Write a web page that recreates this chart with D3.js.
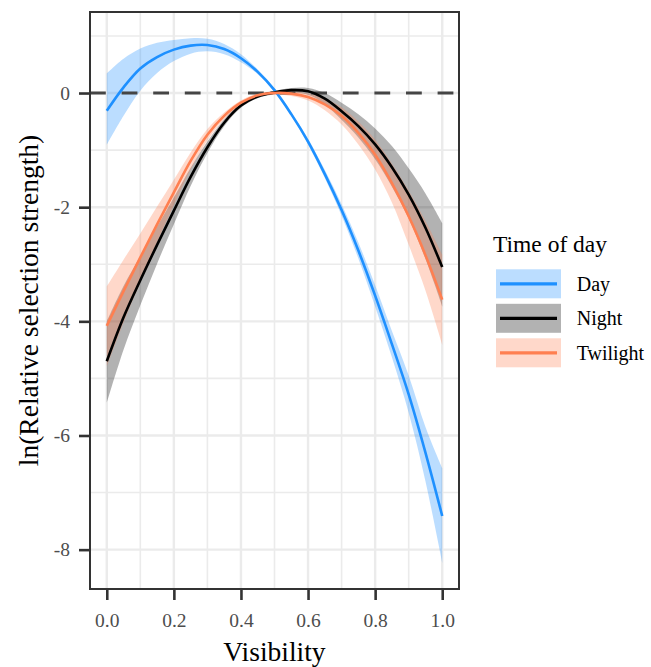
<!DOCTYPE html>
<html>
<head>
<meta charset="utf-8">
<script src="https://cdnjs.cloudflare.com/ajax/libs/d3/7.8.5/d3.min.js"></script>
<style>
  html, body { margin: 0; padding: 0; background: #fff; }
  svg { display: block; }
  text { font-family: "Liberation Serif", "Times New Roman", serif; }
</style>
</head>
<body>
<svg id="chart" width="651" height="667"></svg>
<script>
// Visibility values at which the fitted curves are evaluated
const visibility = [0, 0.05, 0.1, 0.15, 0.2, 0.25, 0.3, 0.35, 0.4, 0.45, 0.5,
                    0.55, 0.6, 0.65, 0.7, 0.75, 0.8, 0.85, 0.9, 0.95, 1.0];

// Day: fitted ln(relative selection strength) with confidence band
const dayFit   = [-0.31, 0.10, 0.43, 0.63, 0.76, 0.83, 0.84, 0.77, 0.61, 0.37, 0.05,
                  -0.37, -0.85, -1.42, -2.05, -2.76, -3.55, -4.40, -5.28, -6.30, -7.41];
const dayUpper = [0.34, 0.60, 0.78, 0.88, 0.93, 0.96, 0.95, 0.86, 0.68, 0.41, 0.08,
                  -0.34, -0.80, -1.35, -1.95, -2.62, -3.37, -4.17, -4.95, -5.85, -6.57];
const dayLower = [-0.91, -0.40, 0.04, 0.35, 0.56, 0.69, 0.73, 0.68, 0.54, 0.33, 0.02,
                  -0.40, -0.90, -1.49, -2.15, -2.90, -3.74, -4.63, -5.60, -6.80, -8.23];

// Night
const nightFit   = [-4.70, -3.93, -3.28, -2.66, -2.06, -1.47, -0.95, -0.52, -0.22, -0.06, 0.01,
                    0.05, 0.03, -0.10, -0.32, -0.58, -0.90, -1.30, -1.78, -2.36, -3.05];
const nightUpper = [-4.00, -3.38, -2.86, -2.34, -1.83, -1.31, -0.85, -0.46, -0.18, -0.03, 0.04,
                    0.09, 0.09, 0.00, -0.17, -0.37, -0.62, -0.93, -1.32, -1.76, -2.28];
const nightLower = [-5.43, -4.50, -3.72, -2.99, -2.30, -1.63, -1.05, -0.58, -0.26, -0.09, -0.02,
                    0.01, -0.03, -0.20, -0.47, -0.78, -1.16, -1.64, -2.20, -2.91, -3.74];

// Twilight
const twilightFit   = [-4.08, -3.47, -2.88, -2.30, -1.74, -1.19, -0.73, -0.40, -0.17, -0.04, 0.00,
                       -0.01, -0.07, -0.20, -0.40, -0.70, -1.08, -1.58, -2.16, -2.84, -3.62];
const twilightUpper = [-3.39, -2.92, -2.46, -1.99, -1.52, -1.04, -0.63, -0.34, -0.13, -0.01, 0.03,
                       0.03, -0.01, -0.10, -0.25, -0.50, -0.82, -1.24, -1.71, -2.24, -2.83];
const twilightLower = [-4.79, -4.02, -3.30, -2.61, -1.96, -1.34, -0.83, -0.46, -0.21, -0.07, -0.03,
                       -0.05, -0.13, -0.30, -0.55, -0.90, -1.34, -1.92, -2.66, -3.46, -4.41];

const groupNames = ["Day", "Night", "Twilight"];
const groupColors = ["#1E90FF", "#000000", "#FF7F50"];

const xTicks = [0, 0.2, 0.4, 0.6, 0.8, 1.0];
const xMinor = [0.1, 0.3, 0.5, 0.7, 0.9];
const yTicks = [-8, -6, -4, -2, 0];
const yMinor = [-7, -5, -3, -1, 1];

const xTitle = "Visibility";
const yTitle = "ln(Relative selection strength)";
const legendTitle = "Time of day";

// ---- assemble series ----
function buildSeries(fit, upper, lower) {
  return visibility.map((v, i) => ({ x: v, y: fit[i], hi: upper[i], lo: lower[i] }));
}
const series = [
  buildSeries(dayFit, dayUpper, dayLower),
  buildSeries(nightFit, nightUpper, nightLower),
  buildSeries(twilightFit, twilightUpper, twilightLower)
].map((values, i) => ({ name: groupNames[i], color: groupColors[i], values }));

// ---- layout ----
const panel = { left: 90, right: 459, top: 12, bottom: 589 };
const svg = d3.select("#chart");
svg.append("rect").attr("width", 651).attr("height", 667).attr("fill", "#fff");

// 5% padding on both scales
const xExt = d3.extent(visibility);
const xPad = (xExt[1] - xExt[0]) * 0.05;
const x = d3.scaleLinear().domain([xExt[0] - xPad, xExt[1] + xPad]).range([panel.left, panel.right]);

const allY = series.flatMap(s => s.values.flatMap(d => [d.hi, d.lo, d.y]));
const yExt = d3.extent(allY);
const yPad = (yExt[1] - yExt[0]) * 0.05;
const y = d3.scaleLinear().domain([yExt[0] - yPad, yExt[1] + yPad]).range([panel.bottom, panel.top]);

// ---- grid ----
const grid = svg.append("g").attr("stroke", "#EBEBEB");
grid.selectAll("line.xminor").data(xMinor).join("line")
  .attr("x1", d => x(d)).attr("x2", d => x(d)).attr("y1", panel.top).attr("y2", panel.bottom)
  .attr("stroke-width", 1.6);
grid.selectAll("line.yminor").data(yMinor).join("line")
  .attr("y1", d => y(d)).attr("y2", d => y(d)).attr("x1", panel.left).attr("x2", panel.right)
  .attr("stroke-width", 1.6);
grid.selectAll("line.xmajor").data(xTicks).join("line")
  .attr("x1", d => x(d)).attr("x2", d => x(d)).attr("y1", panel.top).attr("y2", panel.bottom)
  .attr("stroke-width", 2.4);
grid.selectAll("line.ymajor").data(yTicks).join("line")
  .attr("y1", d => y(d)).attr("y2", d => y(d)).attr("x1", panel.left).attr("x2", panel.right)
  .attr("stroke-width", 2.4);

// ---- confidence ribbons ----
const area = d3.area()
  .x(d => x(d.x)).y0(d => y(d.lo)).y1(d => y(d.hi))
  .curve(d3.curveCatmullRom.alpha(0.5));
svg.append("g").selectAll("path").data(series).join("path")
  .attr("d", s => area(s.values))
  .attr("fill", s => s.color)
  .attr("fill-opacity", 0.3);

// ---- reference line at zero ----
svg.append("line")
  .attr("x1", panel.left).attr("x2", panel.right)
  .attr("y1", y(0)).attr("y2", y(0))
  .attr("stroke", "#454545").attr("stroke-width", 3)
  .attr("stroke-dasharray", "15.8,15.8");

// ---- fitted lines ----
const line = d3.line().x(d => x(d.x)).y(d => y(d.y)).curve(d3.curveCatmullRom.alpha(0.5));
svg.append("g").selectAll("path").data(series).join("path")
  .attr("d", s => line(s.values))
  .attr("fill", "none")
  .attr("stroke", s => s.color)
  .attr("stroke-width", 2.6);

// ---- panel border ----
svg.append("rect")
  .attr("x", panel.left).attr("y", panel.top)
  .attr("width", panel.right - panel.left).attr("height", panel.bottom - panel.top)
  .attr("fill", "none").attr("stroke", "#333333").attr("stroke-width", 2);

// ---- axes ----
const xAxis = d3.axisBottom(x).tickValues(xTicks).tickFormat(d3.format(".1f"))
  .tickSize(11).tickPadding(13);
const gx = svg.append("g").attr("transform", `translate(0,${panel.bottom})`).call(xAxis);
gx.select(".domain").remove();
gx.selectAll(".tick line").attr("stroke", "#333333").attr("stroke-width", 2.6);
gx.selectAll(".tick text").attr("fill", "#4D4D4D").attr("font-size", 19.5)
  .attr("font-family", "Liberation Serif, Times New Roman, serif");

// plain hyphen-minus for negative tick labels
const yAxis = d3.axisLeft(y).tickValues(yTicks).tickFormat(d => String(d))
  .tickSize(11).tickPadding(9);
const gy = svg.append("g").attr("transform", `translate(${panel.left},0)`).call(yAxis);
gy.select(".domain").remove();
gy.selectAll(".tick line").attr("stroke", "#333333").attr("stroke-width", 2.6);
gy.selectAll(".tick text").attr("fill", "#4D4D4D").attr("font-size", 19.5)
  .attr("font-family", "Liberation Serif, Times New Roman, serif");

// axis titles
svg.append("text")
  .attr("x", (panel.left + panel.right) / 2).attr("y", 661)
  .attr("text-anchor", "middle").attr("font-size", 27.5).attr("fill", "#000")
  .text(xTitle);
svg.append("text")
  .attr("transform", `translate(38,${(panel.top + panel.bottom) / 2}) rotate(-90)`)
  .attr("text-anchor", "middle").attr("font-size", 27.5).attr("fill", "#000")
  .text(yTitle);

// ---- legend ----
const legend = svg.append("g");
legend.append("text").attr("x", 493).attr("y", 252)
  .attr("font-size", 23.5).attr("fill", "#000").text(legendTitle);
const keyW = 65, keyH = 29, keyStep = 34.5, keyX = 496, keyY0 = 269.3;
const items = legend.selectAll("g.item").data(series).join("g")
  .attr("transform", (s, i) => `translate(${keyX},${keyY0 + i * keyStep})`);
items.append("rect").attr("width", keyW).attr("height", keyH)
  .attr("fill", s => s.color).attr("fill-opacity", 0.3);
items.append("line")
  .attr("x1", 4).attr("x2", keyW - 4).attr("y1", keyH / 2).attr("y2", keyH / 2)
  .attr("stroke", s => s.color).attr("stroke-width", 3.2);
items.append("text")
  .attr("x", 80.7).attr("y", keyH / 2 + 6.8)
  .attr("font-size", 20).attr("fill", "#000")
  .text(s => s.name);
</script>
</body>
</html>
